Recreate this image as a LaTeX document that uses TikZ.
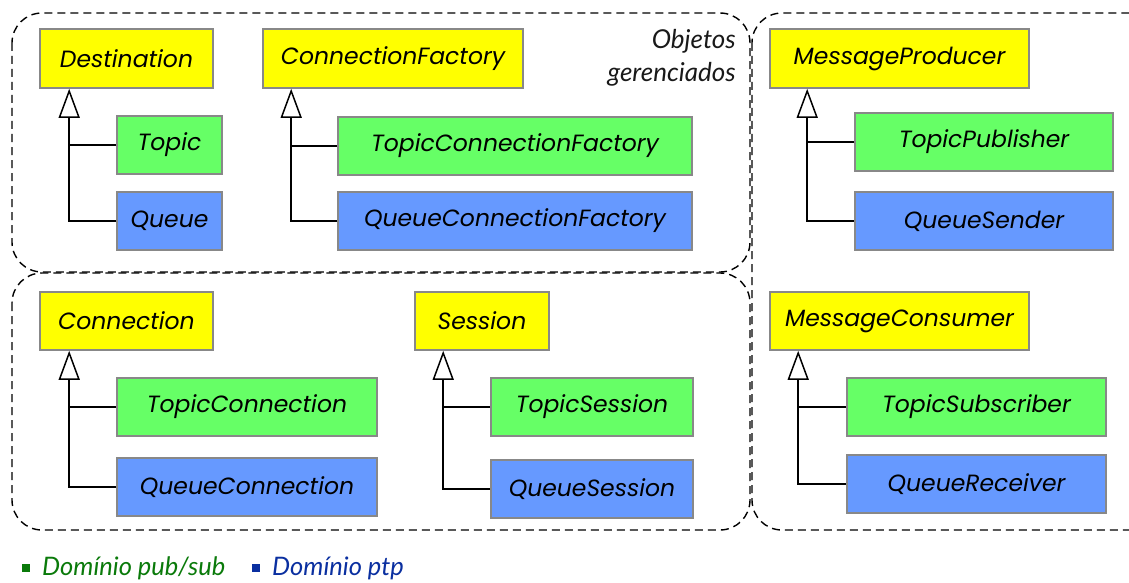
\documentclass[tikz,border=0pt]{standalone}
\usepackage{fontspec}
\setmainfont{Lato}
\newfontfamily\popp{Poppins}
\usetikzlibrary{arrows.meta}
\definecolor{cyel}{HTML}{FFFF00}
\definecolor{cgrn}{HTML}{66FF66}
\definecolor{cblu}{HTML}{6699FF}
\definecolor{cbrd}{HTML}{888888}
\definecolor{lgrn}{HTML}{0A7A0A}
\definecolor{lblu}{HTML}{0A2FA0}
\tikzset{
  cls/.style={draw=cbrd, line width=1.6pt, inner sep=0pt, minimum height=58pt,
    font=\popp\itshape\fontsize{23.5}{28}\selectfont, text=black},
  ybox/.style={cls, fill=cyel},
  gbox/.style={cls, fill=cgrn},
  bbox/.style={cls, fill=cblu},
  region/.style={draw=black, line width=1.4pt, dash pattern=on 8pt off 5pt, rounded corners=30pt},
  inh/.style={draw=black, line width=1.5pt, -{Triangle[open, length=29pt, width=21pt, line width=1.5pt]}},
  br/.style={draw=black, line width=1.5pt},
  legend/.style={anchor=west, inner sep=0pt, font=\itshape\fontsize{25.5}{30}\selectfont},
}
\begin{document}
\begin{tikzpicture}[x=1pt,y=-1pt]
\useasboundingbox (0,0) rectangle (1129,583);
\begin{scope}
\clip (0,0) rectangle (1129,583);
\draw[region] (12,13) rectangle (750,272);
\draw[region] (12,273) rectangle (750,530);
\draw[region] (752,13) rectangle (1160,530);
\end{scope}

\node[font=\itshape\fontsize{26}{33}\selectfont, align=right, anchor=north east, inner sep=0pt, text=black!90] (obj) at (736,29) {Objetos\\gerenciados};

% Destination group
\node[ybox, minimum width=173pt, minimum height=59pt] (dest) at (126.5,58.5) {Destination};
\node[gbox, minimum width=105pt] (topic) at (169.5,145) {Topic};
\node[bbox, minimum width=105pt] (queue) at (169.5,221) {Queue};
\coordinate (dA) at ([xshift=30pt]dest.south west);
\draw[inh] (queue.west) -| (dA);
\draw[br] (topic.west) -- (topic.west -| dA);

% ConnectionFactory group
\node[ybox, minimum width=260pt, minimum height=59pt] (cf) at (393,58.5) {ConnectionFactory};
\node[gbox, minimum width=354pt] (tcf) at (515,146) {TopicConnectionFactory};
\node[bbox, minimum width=354pt] (qcf) at (515,221) {QueueConnectionFactory};
\coordinate (cfA) at ([xshift=29pt]cf.south west);
\draw[inh] (qcf.west) -| (cfA);
\draw[br] (tcf.west) -- (tcf.west -| cfA);

% MessageProducer group
\node[ybox, minimum width=259pt, minimum height=59pt] (mp) at (899.5,58.5) {MessageProducer};
\node[gbox, minimum width=258pt] (tp) at (984,142) {TopicPublisher};
\node[bbox, minimum width=258pt] (qs) at (984,221) {QueueSender};
\coordinate (mpA) at ([xshift=38pt]mp.south west);
\draw[inh] (qs.west) -| (mpA);
\draw[br] (tp.west) -- (tp.west -| mpA);

% Connection group
\node[ybox, minimum width=173pt] (con) at (126.5,321) {Connection};
\node[gbox, minimum width=260pt] (tcon) at (247,407) {TopicConnection};
\node[bbox, minimum width=260pt] (qcon) at (247,487) {QueueConnection};
\coordinate (conA) at ([xshift=30pt]con.south west);
\draw[inh] (qcon.west) -| (conA);
\draw[br] (tcon.west) -- (tcon.west -| conA);

% Session group
\node[ybox, minimum width=134pt] (ses) at (482,321) {Session};
\node[gbox, minimum width=202pt] (tses) at (592,407) {TopicSession};
\node[bbox, minimum width=202pt] (qses) at (592,489) {QueueSession};
\coordinate (sesA) at ([xshift=29pt]ses.south west);
\draw[inh] (qses.west) -| (sesA);
\draw[br] (tses.west) -- (tses.west -| sesA);

% MessageConsumer group
\node[ybox, minimum width=259pt] (mc) at (899.5,321) {MessageConsumer};
\node[gbox, minimum width=259pt] (tsub) at (976.5,407) {TopicSubscriber};
\node[bbox, minimum width=259pt] (qrec) at (976.5,484) {QueueReceiver};
\coordinate (mcA) at ([xshift=29pt]mc.south west);
\draw[inh] (qrec.west) -| (mcA);
\draw[br] (tsub.west) -- (tsub.west -| mcA);

% Legend
\node[fill=lgrn, minimum size=8pt, inner sep=0pt] (sqg) at (26,568) {};
\node[legend, text=lgrn] (lg) at (42,568) {Domínio pub/sub};
\node[fill=lblu, minimum size=8pt, inner sep=0pt] (sqb) at (256,568) {};
\node[legend, text=lblu] (lb) at (272,568) {Domínio ptp};
\end{tikzpicture}
\end{document}
